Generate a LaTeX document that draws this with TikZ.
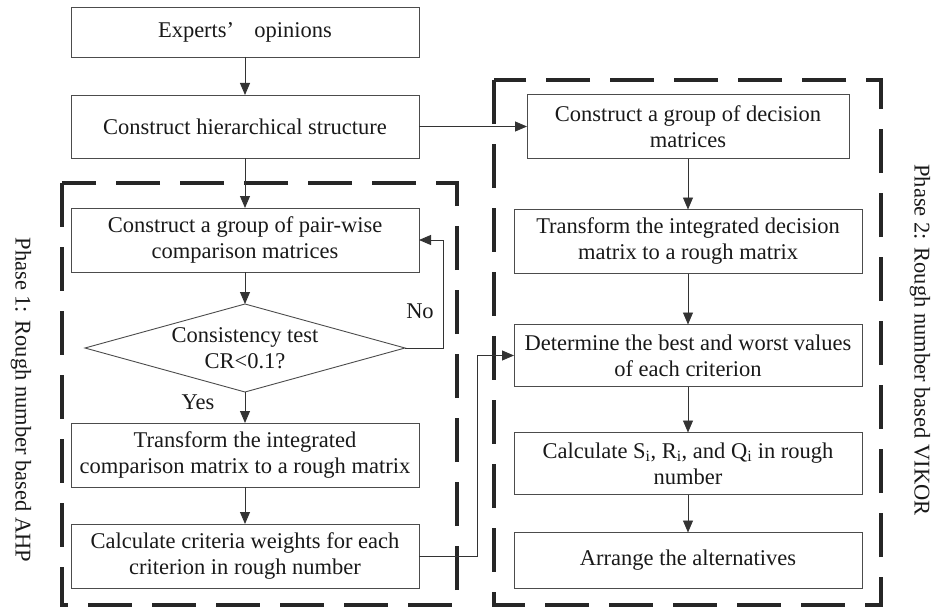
\documentclass[tikz,border=0pt]{standalone}
\usepackage{fontspec}
\setmainfont{Liberation Serif}
\usepackage{tikz}
\usetikzlibrary{arrows.meta,shapes.geometric}
\usetikzlibrary{positioning}

\tikzset{
  box/.style={draw=black!70, line width=0.9pt, rectangle, minimum width=348pt, minimum height=64pt, align=center, inner sep=2pt, outer sep=0pt},
  test/.style={draw=black!70, line width=0.9pt, diamond, shape aspect=3.64, minimum width=320pt, minimum height=88pt, align=center, inner sep=0pt, outer sep=0pt},
  flow/.style={draw=black!80, line width=0.9pt, -{Triangle[length=12pt,width=10pt]}},
  phase/.style={draw=black!85, line width=4pt, dash pattern=on 44pt off 20pt},
  note/.style={inner sep=0pt}
}

\begin{document}
\begin{tikzpicture}[x=1pt, y=-1pt, font=\fontsize{22.5}{26}\selectfont, text=black!90]
\useasboundingbox (0,0) rectangle (932,610);
% phase 1
\node[box, minimum height=50pt] (experts) at (245,32) {Experts’\hspace{0.9em}opinions};
\node[box, minimum height=63pt] (hier) [below=38pt of experts] {Construct hierarchical structure};
\node[box] (pair) [below=50pt of hier] {Construct a group of pair-wise\\comparison matrices};
\node[test] (cons) [below=32pt of pair] {Consistency test\\CR<0.1?};
\node[box] (roughL) [below=31pt of cons] {Transform the integrated\\comparison matrix to a rough matrix};
\node[box] (weights) [below=37pt of roughL] {Calculate criteria weights for each\\criterion in rough number};

% phase 2
\node[box, minimum width=322pt] (decision) [right=108pt of hier] {Construct a group of decision\\matrices};
\node[box] (roughR) [below=51pt of decision] {Transform the integrated decision\\matrix to a rough matrix};
\node[box, minimum height=62pt] (best) [below=51pt of roughR] {Determine the best and worst values\\of each criterion};
\node[box, minimum height=62pt] (calc) [below=46pt of best] {Calculate S\textsubscript{i}, R\textsubscript{i}, and Q\textsubscript{i} in rough\\number};
\node[box, minimum height=56pt] (rank) [below=38pt of calc] {Arrange the alternatives};

\node[note] (yes) at (198,402) {Yes};
\node[note] (no) at (420,311) {No};
\node[note, rotate=-90] (phase1) at (21,400) {Phase 1: Rough number based AHP};
\node[note, rotate=-90] (phase2) at (920,340) {Phase 2: Rough number based VIKOR};

\draw[phase] (62,183) rectangle (457,605);
\draw[phase] (494,80) rectangle (881,605);

\draw[flow] (experts) -- (hier);
\draw[flow] (hier) -- (pair);
\draw[flow] (pair) -- (cons);
\draw[flow] (cons) -- (roughL);
\draw[flow] (roughL) -- (weights);
\draw[flow] (cons.east) -- ++(38,0) |- (pair.east);
\draw[flow] (hier) -- (decision);
\draw[flow] (weights.east) -- ++(58,0) |- (best.west);
\draw[flow] (decision) -- (roughR);
\draw[flow] (roughR) -- (best);
\draw[flow] (best) -- (calc);
\draw[flow] (calc) -- (rank);
\end{tikzpicture}
\end{document}
